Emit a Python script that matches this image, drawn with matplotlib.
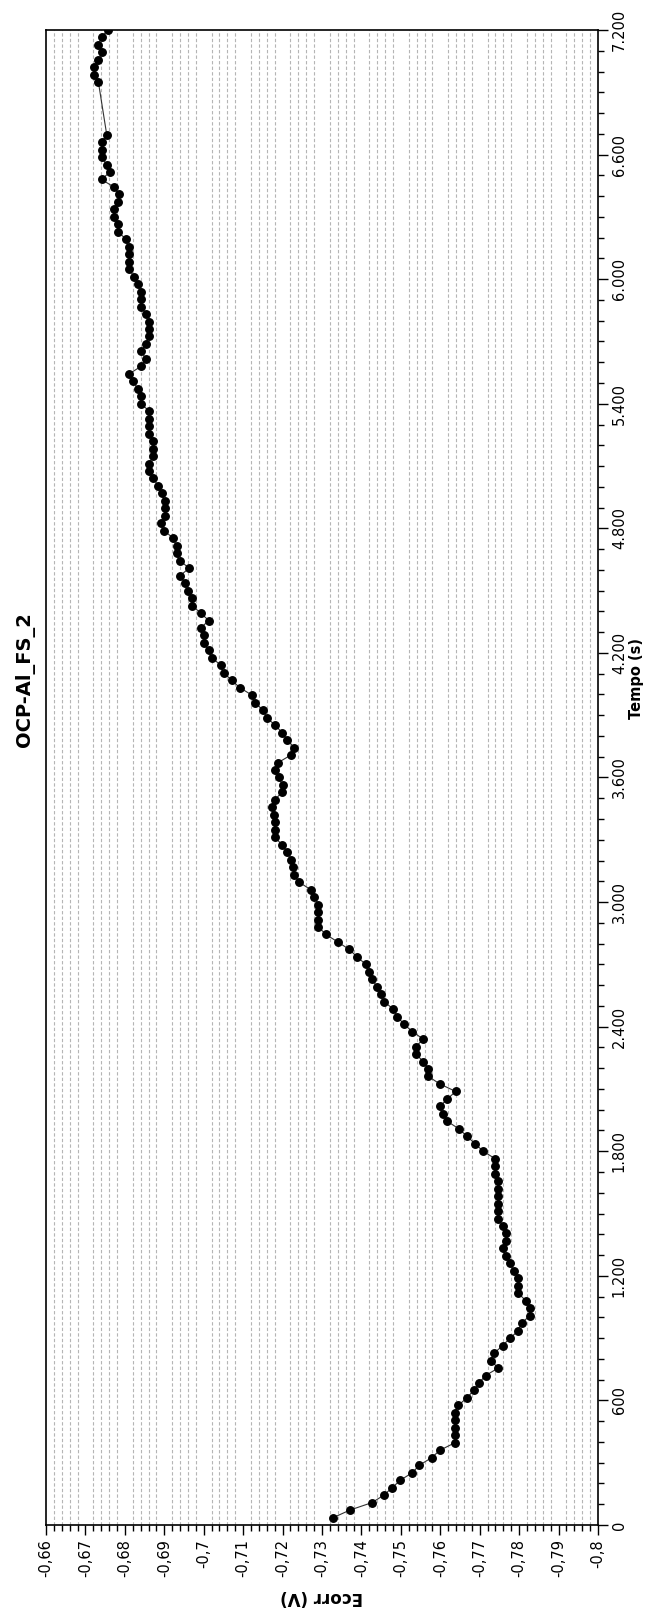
import numpy as np
import matplotlib
matplotlib.use("Agg")
import matplotlib.pyplot as plt
from matplotlib.ticker import MultipleLocator, FixedLocator

# tempo (s) e potencial de corrosao (V)
tempo = [36, 72, 108, 144, 180, 216, 252, 288, 324, 360,
         396, 432, 468, 504, 540, 576, 612, 648, 684, 720,
         756, 792, 828, 864, 900, 936, 972, 1008, 1044, 1080,
         1116, 1152, 1188, 1224, 1260, 1296, 1332, 1368, 1404, 1440,
         1476, 1512, 1548, 1584, 1620, 1656, 1692, 1728, 1764, 1800,
         1836, 1872, 1908, 1944, 1980, 2016, 2052, 2088, 2124, 2160,
         2196, 2232, 2268, 2304, 2340, 2376, 2412, 2448, 2484, 2520,
         2556, 2592, 2628, 2664, 2700, 2736, 2772, 2808, 2844, 2880,
         2916, 2952, 2988, 3024, 3060, 3096, 3132, 3168, 3204, 3240,
         3276, 3312, 3348, 3384, 3420, 3456, 3492, 3528, 3564, 3600,
         3636, 3672, 3708, 3744, 3780, 3816, 3852, 3888, 3924, 3960,
         3996, 4032, 4068, 4104, 4140, 4176, 4212, 4248, 4284, 4320,
         4356, 4392, 4428, 4464, 4500, 4536, 4572, 4608, 4644, 4680,
         4716, 4752, 4788, 4824, 4860, 4896, 4932, 4968, 5004, 5040,
         5076, 5112, 5148, 5184, 5220, 5256, 5292, 5328, 5364, 5400,
         5436, 5472, 5508, 5544, 5580, 5616, 5652, 5688, 5724, 5760,
         5796, 5832, 5868, 5904, 5940, 5976, 6012, 6048, 6084, 6120,
         6156, 6192, 6228, 6264, 6300, 6336, 6372, 6408, 6444, 6480,
         6516, 6552, 6588, 6624, 6660, 6696,
         6948, 6984, 7020, 7056, 7092, 7128, 7164, 7200]

ecorr = [-0.7329, -0.7371, -0.7427, -0.7457, -0.7478, -0.7499, -0.7529, -0.7547, -0.7578, -0.7599,
         -0.7637, -0.7637, -0.7637, -0.7637, -0.7637, -0.7646, -0.7667, -0.7685, -0.7698, -0.7715,
         -0.7747, -0.7728, -0.7737, -0.7758, -0.7777, -0.7798, -0.7806, -0.7827, -0.7827, -0.7817,
         -0.7798, -0.7798, -0.7798, -0.7787, -0.7777, -0.7767, -0.7758, -0.7767, -0.7767, -0.7758,
         -0.7747, -0.7747, -0.7747, -0.7747, -0.7747, -0.7747, -0.7739, -0.7739, -0.7739, -0.7709,
         -0.7688, -0.7668, -0.7647, -0.7618, -0.7608, -0.7599, -0.7618, -0.7639, -0.7599, -0.7570,
         -0.7570, -0.7557, -0.7538, -0.7538, -0.7557, -0.7529, -0.7508, -0.7491, -0.7481, -0.7458,
         -0.7450, -0.7439, -0.7428, -0.7420, -0.7411, -0.7389, -0.7369, -0.7340, -0.7310, -0.7291,
         -0.7291, -0.7291, -0.7291, -0.7280, -0.7271, -0.7242, -0.7229, -0.7227, -0.7221, -0.7212,
         -0.7199, -0.7180, -0.7180, -0.7180, -0.7179, -0.7172, -0.7180, -0.7198, -0.7200, -0.7191,
         -0.7182, -0.7189, -0.7221, -0.7230, -0.7212, -0.7199, -0.7181, -0.7160, -0.7151, -0.7130,
         -0.7123, -0.7092, -0.7071, -0.7051, -0.7043, -0.7022, -0.7013, -0.7001, -0.7001, -0.6992,
         -0.7013, -0.6992, -0.6971, -0.6971, -0.6961, -0.6953, -0.6940, -0.6963, -0.6940, -0.6931,
         -0.6931, -0.6923, -0.6900, -0.6892, -0.6902, -0.6902, -0.6902, -0.6893, -0.6885, -0.6872,
         -0.6862, -0.6862, -0.6872, -0.6872, -0.6872, -0.6862, -0.6862, -0.6862, -0.6862, -0.6841,
         -0.6841, -0.6833, -0.6821, -0.6811, -0.6841, -0.6854, -0.6841, -0.6853, -0.6862, -0.6862,
         -0.6862, -0.6854, -0.6841, -0.6841, -0.6841, -0.6834, -0.6824, -0.6810, -0.6811, -0.6811,
         -0.6811, -0.6803, -0.6783, -0.6783, -0.6772, -0.6772, -0.6783, -0.6785, -0.6772, -0.6741,
         -0.6762, -0.6754, -0.6741, -0.6741, -0.6741, -0.6754,
         -0.6733, -0.6723, -0.6723, -0.6733, -0.6743, -0.6733, -0.6741, -0.6756]

ecorr_ticks = [-0.66, -0.67, -0.68, -0.69, -0.70, -0.71, -0.72, -0.73,
               -0.74, -0.75, -0.76, -0.77, -0.78, -0.79, -0.80]
tempo_ticks = [0, 600, 1200, 1800, 2400, 3000, 3600, 4200, 4800,
               5400, 6000, 6600, 7200]

W, H = 657, 1610
fig = plt.figure(figsize=(W / 100, H / 100), dpi=100)
ax = fig.add_axes([46 / W, 1 - 1525 / H, (598 - 46) / W, (1525 - 30) / H])

# grafico rodado: Ecorr na horizontal, tempo na vertical
ax.plot(ecorr, tempo, '-', color='#333333', lw=0.8, zorder=3)
ax.plot(ecorr, tempo, 'o', color='black', ms=5.4, zorder=4)

ax.set_xlim(-0.66, -0.80)
ax.set_ylim(0, 7200)

ax.xaxis.set_major_locator(FixedLocator(ecorr_ticks))
ax.xaxis.set_minor_locator(MultipleLocator(0.002))
ax.set_xticklabels([('%g' % v).replace('.', ',') for v in ecorr_ticks],
                   rotation=90, fontsize=10.5)

ax.yaxis.tick_right()
ax.yaxis.set_major_locator(FixedLocator(tempo_ticks))
ax.yaxis.set_minor_locator(MultipleLocator(100))
ax.set_yticklabels([('{:,}'.format(v)).replace(',', '.') for v in tempo_ticks],
                   rotation=90, va='center', fontsize=10.5)

ax.tick_params(which='major', length=7, width=1, pad=3)
ax.tick_params(which='minor', length=4.5, width=1)

# grade tracejada so nas divisoes menores
ax.grid(False)
xmin = ax.xaxis.get_minorticklocs()
for xv in xmin:
    if np.min(np.abs(np.array(ecorr_ticks) - xv)) < 1e-6:
        continue
    ax.axvline(xv, color='#b5b5b5', lw=0.8, ls=(0, (3, 2)), zorder=1)

for s in ax.spines.values():
    s.set_linewidth(1.2)
    s.set_color('black')

fig.text(25 / W, 1 - 680 / H, 'OCP-Al_FS_2', rotation=90, fontsize=14,
         fontweight='bold', ha='center', va='center')
fig.text(636 / W, 1 - 678 / H, 'Tempo (s)', rotation=90, fontsize=10.5,
         fontweight='bold', ha='center', va='center')
fig.text(322 / W, 1 - 1597 / H, 'Ecorr (V)', rotation=180, fontsize=12,
         fontweight='bold', ha='center', va='center')

fig.savefig('out.png', dpi=100)
